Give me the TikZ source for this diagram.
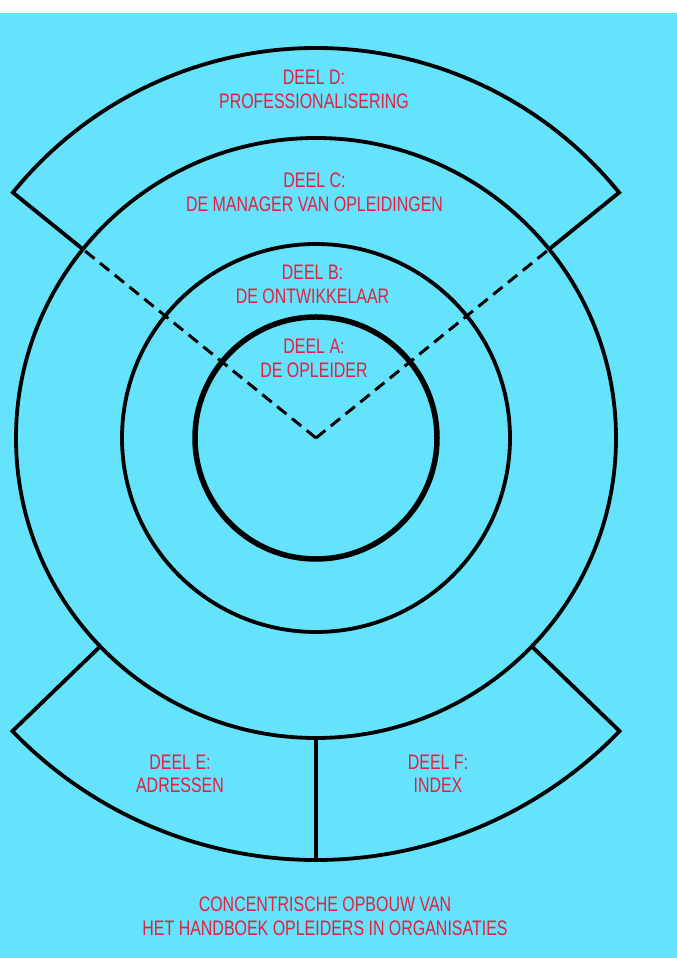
\documentclass[tikz,border=0pt]{standalone}
\usepackage{fontspec}
\setmainfont{Liberation Sans}[FakeStretch=0.76]
\usepackage{xcolor}
\definecolor{sheet}{HTML}{66E3FC}
\definecolor{inkred}{HTML}{E3203F}

\begin{document}
\begin{tikzpicture}[x=1pt, y=1pt,
            ring/.style={draw=black, line width=3.8pt},
            core/.style={draw=black, line width=5.5pt},
            border/.style={draw=black, line width=3.8pt, line join=miter},
            split/.style={draw=black, line width=3pt, dash pattern=on 12pt off 7pt},
            partname/.style={text=inkred, align=center, inner sep=0pt, font=\fontsize{21}{23.5}\selectfont}
        ]
            
            \useasboundingbox (0,0) rectangle (677,958);
            \fill[white] (0,0) rectangle (677,958);
            \fill[sheet] (0,0) rectangle (677,945);
            
            \coordinate (centre) at (316,520);
            
            % rings
            \draw[core] (centre) circle[radius=121];
            \draw[ring] (centre) circle[radius=194];
            \draw[ring] (centre) circle[radius=300];
            
            % top sector
            \draw[border] (centre) ++(141:300) -- ++(141:90) arc[start angle=141, end angle=39, radius=390] -- ++(219:90);
            \draw[split] (centre) -- ++(141:300);
            \draw[split] (centre) -- ++(39:300);
            
            % bottom sector
            \draw[border] (centre) ++(224:300) -- ++(224:122) arc[start angle=224, end angle=316, radius=422] -- ++(136:122);
            \draw[border] (centre) ++(0,-300) -- ++(0,-122);
            
            \node[partname] (deelD) at (314,868.5) {DEEL D:\\PROFESSIONALISERING};
            \node[partname] (deelC) at (314.5,765.5) {DEEL C:\\DE MANAGER VAN OPLEIDINGEN};
            \node[partname] (deelB) at (312.5,673.5) {DEEL B:\\DE ONTWIKKELAAR};
            \node[partname] (deelA) at (314,599.5) {DEEL A:\\DE OPLEIDER};
            \node[partname] (deelE) at (180,184) {DEEL E:\\ADRESSEN};
            \node[partname] (deelF) at (438,184) {DEEL F:\\INDEX};
            \node[partname] (title) at (325,41.5) {CONCENTRISCHE OPBOUW VAN\\HET HANDBOEK OPLEIDERS IN ORGANISATIES};
            
        \end{tikzpicture}
\end{document}
